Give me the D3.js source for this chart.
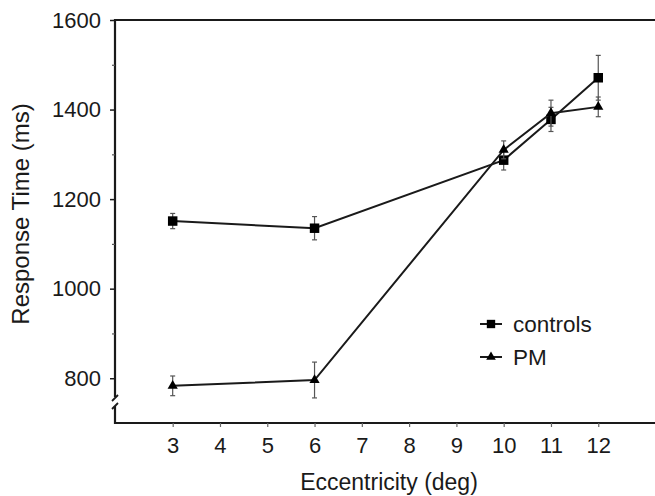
<!DOCTYPE html>
<html>
<head>
<meta charset="utf-8">
<script src="https://cdn.jsdelivr.net/npm/d3@7"></script>
<style>
  html, body { margin: 0; padding: 0; background: #fff; }
  svg { display: block; }
  text { font-family: "Liberation Sans", Arial, Helvetica, sans-serif; fill: #1a1a1a; }
</style>
</head>
<body>
<svg id="chart" width="655" height="496"></svg>
<script>
// ---- data ----
const eccentricity = [3, 6, 10, 11, 12];
const controlsMean = [1151, 1135, 1287, 1378, 1471];
const controlsErr  = [17, 26, 22, 27, 50];
const pmMean       = [783, 796, 1310, 1392, 1406];
const pmErr        = [22, 40, 20, 29, 22];
const xTickValues  = [3, 4, 5, 6, 7, 8, 9, 10, 11, 12];
const yTickValues  = [800, 1000, 1200, 1400, 1600];
const yMinorTicks  = [900, 1100, 1300, 1500];
const seriesNames  = ["controls", "PM"];

// ---- layout ----
const svg = d3.select("#chart");
const pLeft = 115, pRight = 655, pTop = 20, pBottom = 423;

const x = d3.scaleLinear().domain([1.78, 13.2]).range([pLeft, pRight]);
const y = d3.scaleLinear().domain([700, 1600]).range([pBottom, pTop]);

const ink = "#1a1a1a";

// frame: top line, bottom line
svg.append("line").attr("x1", pLeft).attr("x2", pRight).attr("y1", pTop).attr("y2", pTop)
  .attr("stroke", ink).attr("stroke-width", 2.2);
svg.append("line").attr("x1", pLeft - 1).attr("x2", pRight).attr("y1", pBottom).attr("y2", pBottom)
  .attr("stroke", ink).attr("stroke-width", 2.2);

// y spine with break
svg.append("line").attr("x1", pLeft).attr("x2", pLeft).attr("y1", pTop - 1).attr("y2", pBottom - 26)
  .attr("stroke", ink).attr("stroke-width", 2.2);
svg.append("line").attr("x1", pLeft).attr("x2", pLeft).attr("y1", pBottom - 17).attr("y2", pBottom + 1)
  .attr("stroke", ink).attr("stroke-width", 2.2);
svg.append("line").attr("x1", pLeft - 3).attr("x2", pLeft + 3).attr("y1", pBottom - 22).attr("y2", pBottom - 28)
  .attr("stroke", ink).attr("stroke-width", 1.8);
svg.append("line").attr("x1", pLeft - 3).attr("x2", pLeft + 3).attr("y1", pBottom - 14).attr("y2", pBottom - 20)
  .attr("stroke", ink).attr("stroke-width", 1.8);

// y axis major
const yAxis = svg.append("g").attr("transform", `translate(${pLeft},0)`)
  .call(d3.axisLeft(y).tickValues(yTickValues).tickSize(5).tickPadding(9).tickFormat(d3.format("d")));
yAxis.select(".domain").remove();
yAxis.selectAll("line").attr("stroke", ink).attr("stroke-width", 1.5);
yAxis.selectAll("text").style("font-size", "22px").attr("fill", ink);

// y axis minor
const yMinor = svg.append("g").attr("transform", `translate(${pLeft},0)`)
  .call(d3.axisLeft(y).tickValues(yMinorTicks).tickSize(3).tickFormat(""));
yMinor.select(".domain").remove();
yMinor.selectAll("line").attr("stroke", "#555").attr("stroke-width", 1.2);

// x axis
const xAxis = svg.append("g").attr("transform", `translate(0,${pBottom})`)
  .call(d3.axisBottom(x).tickValues(xTickValues).tickSize(4).tickPadding(10));
xAxis.select(".domain").remove();
xAxis.selectAll("line").attr("stroke", "#666").attr("stroke-width", 1.2);
xAxis.selectAll("text").style("font-size", "22px").attr("fill", ink);

// axis titles
svg.append("text").attr("x", 389).attr("y", 490)
  .attr("text-anchor", "middle").style("font-size", "23px").text("Eccentricity (deg)");
svg.append("text").attr("transform", "translate(29,214) rotate(-90)")
  .attr("text-anchor", "middle").style("font-size", "24px").text("Response Time (ms)");

// series
const series = [
  { name: seriesNames[0], mean: controlsMean, err: controlsErr, symbol: d3.symbolSquare, size: 90 },
  { name: seriesNames[1], mean: pmMean, err: pmErr, symbol: d3.symbolTriangle, size: 45 }
];

const lineGen = d3.line().x(d => x(d.x)).y(d => y(d.m));

series.forEach(s => {
  const pts = eccentricity.map((e, i) => ({ x: e, m: s.mean[i], e: s.err[i] }));
  const g = svg.append("g");
  // error bars
  const eb = g.selectAll("g.eb").data(pts).join("g").attr("class", "eb");
  eb.append("line").attr("x1", d => x(d.x)).attr("x2", d => x(d.x))
    .attr("y1", d => y(d.m - d.e)).attr("y2", d => y(d.m + d.e))
    .attr("stroke", "#555").attr("stroke-width", 1.2);
  eb.append("line").attr("x1", d => x(d.x) - 2.5).attr("x2", d => x(d.x) + 2.5)
    .attr("y1", d => y(d.m + d.e)).attr("y2", d => y(d.m + d.e))
    .attr("stroke", "#555").attr("stroke-width", 1.2);
  eb.append("line").attr("x1", d => x(d.x) - 2.5).attr("x2", d => x(d.x) + 2.5)
    .attr("y1", d => y(d.m - d.e)).attr("y2", d => y(d.m - d.e))
    .attr("stroke", "#555").attr("stroke-width", 1.2);
  // line
  g.append("path").datum(pts).attr("d", lineGen)
    .attr("fill", "none").attr("stroke", ink).attr("stroke-width", 2);
  // markers
  g.selectAll("path.mk").data(pts).join("path").attr("class", "mk")
    .attr("transform", d => `translate(${x(d.x)},${y(d.m)})`)
    .attr("d", d3.symbol().type(s.symbol).size(s.size)).attr("fill", "#000");
});

// legend
const legend = svg.append("g").attr("transform", "translate(480,324)");
series.forEach((s, i) => {
  const row = legend.append("g").attr("transform", `translate(0,${i * 33})`);
  row.append("line").attr("x1", 0).attr("x2", 22).attr("y1", 0).attr("y2", 0)
    .attr("stroke", ink).attr("stroke-width", 2);
  row.append("path").attr("transform", "translate(11,0)")
    .attr("d", d3.symbol().type(s.symbol).size(s.size === 90 ? 70 : 40)).attr("fill", "#000");
  row.append("text").attr("x", 33).attr("y", 0).attr("dy", "0.35em")
    .style("font-size", "22.5px").text(s.name);
});
</script>
</body>
</html>
